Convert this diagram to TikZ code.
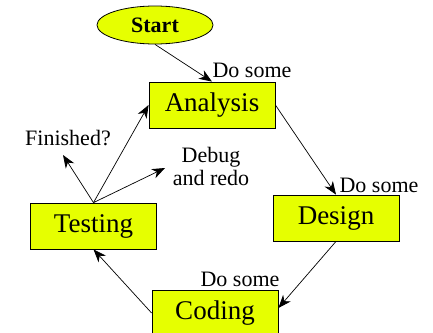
\documentclass[tikz,border=0pt]{standalone}
\usepackage{fontspec}
\setmainfont{Liberation Serif}
\usetikzlibrary{arrows.meta,shapes.geometric}
\definecolor{phasefill}{RGB}{230,255,0}
\tikzset{
  phase/.style={draw=black, line width=0.8pt, fill=phasefill, rectangle,
    minimum width=126pt, minimum height=46pt, inner sep=0pt,
    font=\fontsize{27}{30}\selectfont},
  startnode/.style={draw=black, line width=0.8pt, fill=phasefill, ellipse,
    minimum width=116pt, minimum height=38pt, inner sep=0pt,
    font=\fontsize{22}{24}\selectfont\bfseries},
  note/.style={inner sep=0pt, align=center, font=\fontsize{22}{23}\selectfont},
  flow/.style={draw=black, line width=0.7pt,
    -{Stealth[length=13pt, width=10pt, inset=4pt]}}
}
\begin{document}
\begin{tikzpicture}[x=1pt, y=-1pt]
  \clip (0,0) rectangle (433,332);
  \fill[white] (0,0) rectangle (433,332);

  % phases of the cycle
  \node[startnode] (start) at (155,25) {Start};
  \node[phase] (analysis) at (212,105) {Analysis};
  \node[phase] (design) at (336,218) {Design};
  \node[phase] (coding) at (215,313) {Coding};
  \node[phase] (testing) at (93.5,226) {Testing};

  % free ends of the testing outcomes
  \coordinate (fin) at (63,155);
  \coordinate (dbg) at (165,168);

  % labels
  \node[note] (l1) at (252,70) {Do some};
  \node[note] (l2) at (379,185) {Do some};
  \node[note] (l3) at (240,279) {Do some};
  \node[note] (lfin) at (68,138) {Finished?};
  \node[note] (ldbg) at (211,166) {Debug\\and redo};

  % connectors
  \draw[flow] (start.south) -- (analysis.north);
  \draw[flow] (analysis.east) -- (design.north);
  \draw[flow] (design.south) -- ([yshift=5pt]coding.east);
  \draw[flow] (coding.west) -- (testing.south);
  \draw[flow] (testing.north) -- (analysis.west);
  \draw[flow] (testing.north) -- (fin);
  \draw[flow] (testing.north) -- (dbg);
\end{tikzpicture}
\end{document}
